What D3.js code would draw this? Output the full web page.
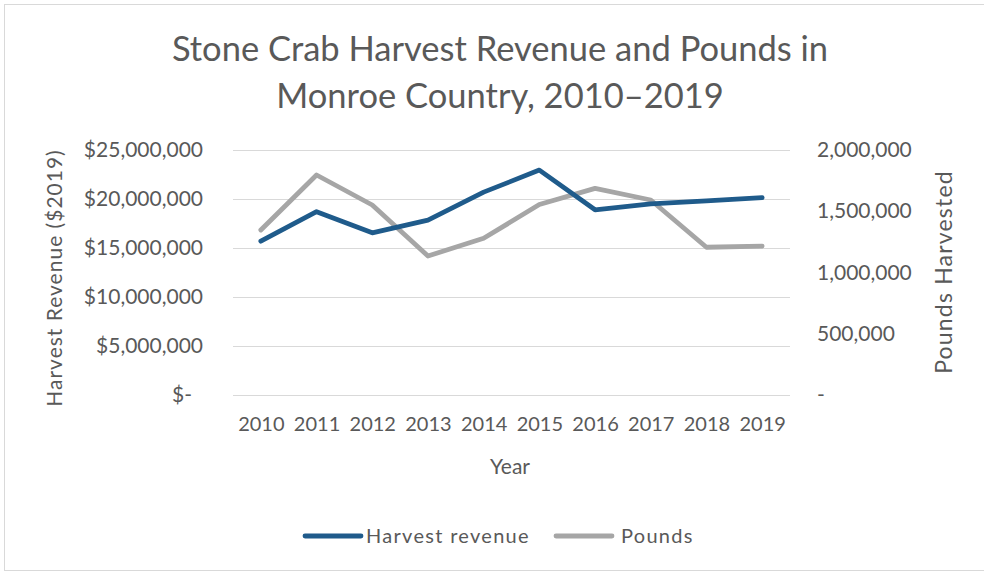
<!DOCTYPE html>
<html>
<head>
<meta charset="utf-8">
<script src="https://cdn.jsdelivr.net/npm/d3@7"></script>
<style>
  html, body { margin: 0; padding: 0; background: #fff; }
  svg text { font-family: Lato, "Open Sans", sans-serif; fill: #595959; }
</style>
</head>
<body>
<svg id="chart" width="984" height="571"></svg>
<script>
// Stone crab harvest, Monroe County, 2010–2019
const years = ["2010", "2011", "2012", "2013", "2014", "2015", "2016", "2017", "2018", "2019"];
const revenue = [15700000, 18700000, 16550000, 17850000, 20700000, 22950000, 18900000, 19500000, 19800000, 20150000];
const pounds = [1347000, 1796000, 1551000, 1135000, 1279000, 1555000, 1687000, 1592000, 1206000, 1216000];
const revenueTicks = [0, 5000000, 10000000, 15000000, 20000000, 25000000];
const poundTicks = [0, 500000, 1000000, 1500000, 2000000];
const seriesNames = ["Harvest revenue", "Pounds"];
const titleLines = ["Stone Crab Harvest Revenue and Pounds in", "Monroe Country, 2010\u20132019"];

const W = 984, H = 571;
const plot = { left: 233, right: 790, top: 150, bottom: 395 };
const colors = { revenue: "#1f5b8b", pounds: "#a6a6a6", grid: "#d9d9d9" };

const svg = d3.select("#chart");

// outer frame
svg.append("rect")
  .attr("x", 4.5).attr("y", 4.5)
  .attr("width", W).attr("height", H - 5)
  .attr("fill", "none").attr("stroke", "#d9d9d9");

const x = d3.scalePoint().domain(years).range([plot.left, plot.right]).padding(0.5);
const yL = d3.scaleLinear().domain([0, 25000000]).range([plot.bottom, plot.top]);
const yR = d3.scaleLinear().domain([0, 2000000]).range([plot.bottom, plot.top]);

const comma = d3.format(",");

// gridlines
svg.append("g")
  .selectAll("line")
  .data(revenueTicks)
  .join("line")
  .attr("x1", plot.left).attr("x2", plot.right)
  .attr("y1", d => Math.round(yL(d)) + 0.5).attr("y2", d => Math.round(yL(d)) + 0.5)
  .attr("stroke", colors.grid).attr("stroke-width", 1);

// left axis (accounting-style labels)
const leftAxis = d3.axisLeft(yL)
  .tickValues(revenueTicks)
  .tickSize(0)
  .tickPadding(30)
  .tickFormat(d => d === 0 ? "$-" : "$" + comma(d));
const gL = svg.append("g").attr("transform", `translate(${plot.left},0)`).call(leftAxis);
gL.select(".domain").remove();
gL.selectAll("text")
  .style("font-size", "21px")
  .attr("fill", "#595959")
  .attr("dx", d => d === 0 ? -11 : 0);

// right axis
const rightAxis = d3.axisRight(yR)
  .tickValues(poundTicks)
  .tickSize(0)
  .tickPadding(27)
  .tickFormat(d => d === 0 ? "-" : comma(d));
const gR = svg.append("g").attr("transform", `translate(${plot.right},0)`).call(rightAxis);
gR.select(".domain").remove();
gR.selectAll("text").style("font-size", "21px").attr("fill", "#595959");

// bottom axis
const bottomAxis = d3.axisBottom(x).tickSize(0).tickPadding(22);
const gB = svg.append("g").attr("transform", `translate(0,${plot.bottom})`).call(bottomAxis);
gB.select(".domain").remove();
gB.selectAll("text").style("font-size", "20px").attr("fill", "#595959");

// series lines
const lineRev = d3.line().x((d, i) => x(years[i])).y(d => yL(d));
const linePounds = d3.line().x((d, i) => x(years[i])).y(d => yR(d));

svg.append("path")
  .datum(pounds)
  .attr("d", linePounds)
  .attr("fill", "none")
  .attr("stroke", colors.pounds)
  .attr("stroke-width", 4.8)
  .attr("stroke-linejoin", "round")
  .attr("stroke-linecap", "round");

svg.append("path")
  .datum(revenue)
  .attr("d", lineRev)
  .attr("fill", "none")
  .attr("stroke", colors.revenue)
  .attr("stroke-width", 4.8)
  .attr("stroke-linejoin", "round")
  .attr("stroke-linecap", "round");

// title
svg.append("text")
  .attr("text-anchor", "middle")
  .style("font-size", "34.5px")
  .selectAll("tspan")
  .data(titleLines)
  .join("tspan")
  .attr("x", 500)
  .attr("y", (d, i) => 61 + i * 47)
  .text(d => d);

// axis titles
svg.append("text")
  .attr("text-anchor", "middle")
  .attr("transform", "translate(62,278) rotate(-90)")
  .style("font-size", "21px")
  .style("letter-spacing", "1px")
  .text("Harvest Revenue ($2019)");

svg.append("text")
  .attr("text-anchor", "middle")
  .attr("transform", "translate(952,272) rotate(-90)")
  .style("font-size", "23px")
  .style("letter-spacing", "1.2px")
  .text("Pounds Harvested");

svg.append("text")
  .attr("text-anchor", "middle")
  .attr("x", 510).attr("y", 474)
  .style("font-size", "21px")
  .text("Year");

// legend
const legend = svg.append("g");
const legendItems = [
  { name: seriesNames[0], color: colors.revenue, x0: 305, gap: 61 },
  { name: seriesNames[1], color: colors.pounds, x0: 556, gap: 65 }
];
const li = legend.selectAll("g").data(legendItems).join("g")
  .attr("transform", d => `translate(${d.x0},536)`);
li.append("line")
  .attr("x1", 0).attr("x2", 56).attr("y1", 0).attr("y2", 0)
  .attr("stroke", d => d.color).attr("stroke-width", 4.8)
  .attr("stroke-linecap", "round");
li.append("text")
  .attr("x", d => d.gap)
  .attr("y", 0).attr("dy", "0.35em")
  .style("font-size", "20px")
  .style("letter-spacing", "1.3px")
  .text(d => d.name);
</script>
</body>
</html>
